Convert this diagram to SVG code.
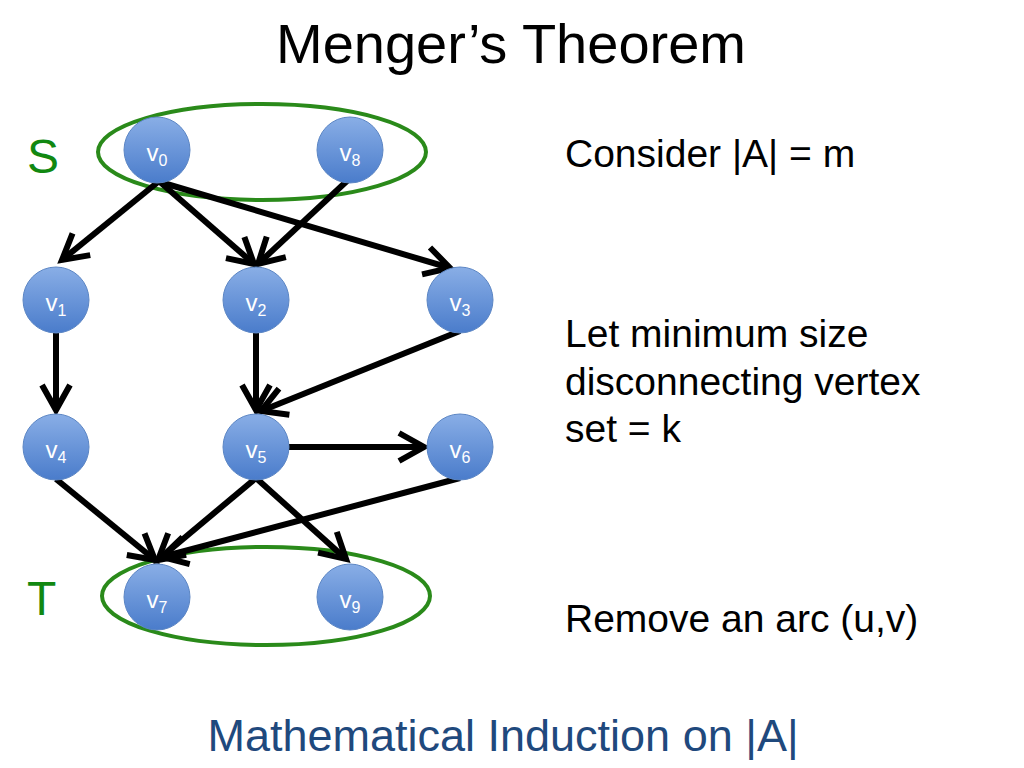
<svg xmlns="http://www.w3.org/2000/svg" width="1024" height="768" viewBox="0 0 1024 768">
<style>
.title{font-family:"Liberation Sans",Arial,sans-serif;font-size:56px;fill:#000}
.body{font-family:"Liberation Sans",Arial,sans-serif;font-size:39px;fill:#000}
.set{font-family:"Liberation Sans",Arial,sans-serif;font-size:48px;fill:#118811}
.foot{font-family:"Liberation Sans",Arial,sans-serif;font-size:45px;fill:#1f497d}
.ring{fill:none;stroke:#2a8a1a;stroke-width:4}
.node{fill:url(#g);stroke:#5c86c4;stroke-width:1}
.lbl{font-family:"Liberation Sans",Arial,sans-serif;font-size:24px;fill:#fff}
.sub{font-size:16px}
.edge{stroke:#000;stroke-width:6;fill:none;marker-end:url(#arr)}
</style>
<defs>
<linearGradient id="g" x1="0" y1="0" x2="0" y2="1">
<stop offset="0" stop-color="#89aee6"/>
<stop offset="1" stop-color="#4a7ccb"/>
</linearGradient>
<marker id="arr" markerUnits="userSpaceOnUse" markerWidth="40" markerHeight="40" refX="0" refY="0" viewBox="-30 -20 34 40" orient="auto" overflow="visible">
<path d="M-25,-14 L0,0 L-25,14" fill="none" stroke="#000" stroke-width="6" stroke-linejoin="miter"/>
</marker>
</defs>
<rect width="1024" height="768" fill="#fff"/>
<text class="title" x="511" y="63" text-anchor="middle">Menger’s Theorem</text>
<text class="set" x="27" y="173">S</text>
<text class="set" x="27" y="615">T</text>
<text class="body" x="565" y="167">Consider |A| = m</text>
<text class="body" x="565" y="347">Let minimum size</text>
<text class="body" x="565" y="395">disconnecting vertex</text>
<text class="body" x="565" y="442">set = k</text>
<text class="body" x="565" y="632">Remove an arc (u,v)</text>
<text class="foot" x="503" y="751" text-anchor="middle">Mathematical Induction on |A|</text>
<g id="setS"><ellipse class="ring" cx="262" cy="152" rx="164" ry="48"/></g>
<g id="setT"><ellipse class="ring" cx="266" cy="596" rx="164" ry="49"/></g>
<g id="connectors">
<line class="edge" x1="158" y1="182" x2="62" y2="260"/>
<line class="edge" x1="160" y1="182" x2="254" y2="264"/>
<line class="edge" x1="160" y1="182" x2="450" y2="268"/>
<line class="edge" x1="348" y1="180" x2="258" y2="264"/>
<line class="edge" x1="56" y1="333" x2="56" y2="410"/>
<line class="edge" x1="256" y1="333" x2="256" y2="410"/>
<line class="edge" x1="460" y1="331" x2="261" y2="411"/>
<line class="edge" x1="289" y1="447" x2="424" y2="447"/>
<line class="edge" x1="56" y1="479" x2="155" y2="560"/>
<line class="edge" x1="256" y1="478" x2="158" y2="560"/>
<line class="edge" x1="460" y1="478" x2="162" y2="557"/>
<line class="edge" x1="256" y1="478" x2="346" y2="559"/>
</g>
<g id="v0"><circle class="node" cx="157" cy="150" r="33"/><text class="lbl" x="157" y="161" text-anchor="middle">v<tspan class="sub" dy="5">0</tspan></text></g>
<g id="v8"><circle class="node" cx="350" cy="150" r="33"/><text class="lbl" x="350" y="161" text-anchor="middle">v<tspan class="sub" dy="5">8</tspan></text></g>
<g id="v1"><circle class="node" cx="56" cy="300" r="33"/><text class="lbl" x="56" y="311" text-anchor="middle">v<tspan class="sub" dy="5">1</tspan></text></g>
<g id="v2"><circle class="node" cx="256" cy="300" r="33"/><text class="lbl" x="256" y="311" text-anchor="middle">v<tspan class="sub" dy="5">2</tspan></text></g>
<g id="v3"><circle class="node" cx="460" cy="300" r="33"/><text class="lbl" x="460" y="311" text-anchor="middle">v<tspan class="sub" dy="5">3</tspan></text></g>
<g id="v4"><circle class="node" cx="56" cy="447" r="33"/><text class="lbl" x="56" y="458" text-anchor="middle">v<tspan class="sub" dy="5">4</tspan></text></g>
<g id="v5"><circle class="node" cx="256" cy="447" r="33"/><text class="lbl" x="256" y="458" text-anchor="middle">v<tspan class="sub" dy="5">5</tspan></text></g>
<g id="v6"><circle class="node" cx="460" cy="447" r="33"/><text class="lbl" x="460" y="458" text-anchor="middle">v<tspan class="sub" dy="5">6</tspan></text></g>
<g id="v7"><circle class="node" cx="157" cy="597" r="33"/><text class="lbl" x="157" y="608" text-anchor="middle">v<tspan class="sub" dy="5">7</tspan></text></g>
<g id="v9"><circle class="node" cx="350" cy="597" r="33"/><text class="lbl" x="350" y="608" text-anchor="middle">v<tspan class="sub" dy="5">9</tspan></text></g>
</svg>
